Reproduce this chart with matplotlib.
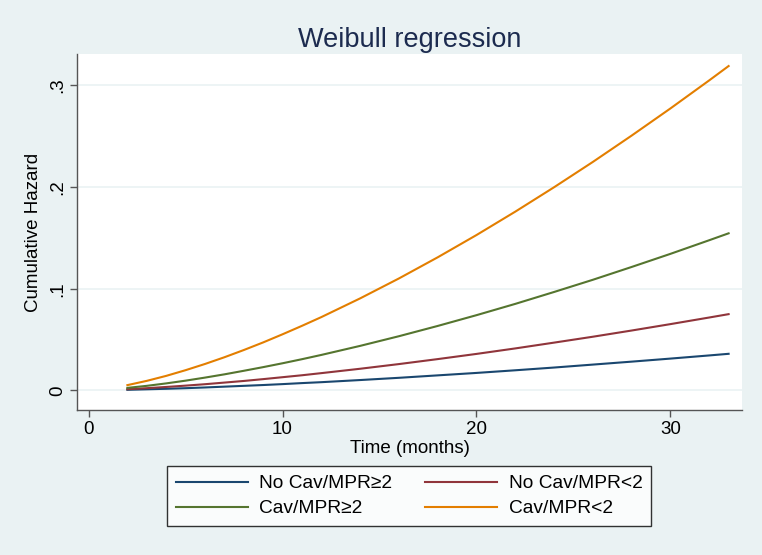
import matplotlib
matplotlib.use("Agg")
import matplotlib.pyplot as plt

plt.rcParams['font.family'] = ['Liberation Sans', 'DejaVu Sans']

time_months = [2, 3, 4, 5, 6, 7, 8, 9, 10, 11, 12, 14, 16, 18, 20, 22, 24, 26, 28, 30, 32, 33]
no_cav_mpr_ge2 = [0.0006, 0.0011, 0.0016, 0.0022, 0.0029, 0.0037, 0.0045, 0.0053, 0.0062, 0.0072,
                  0.0081, 0.0102, 0.0124, 0.0148, 0.0172, 0.0198, 0.0225, 0.0254, 0.0283,
                  0.0313, 0.0344, 0.0360]
no_cav_mpr_lt2 = [0.0012, 0.0022, 0.0034, 0.0047, 0.0061, 0.0077, 0.0093, 0.0111, 0.0130, 0.0149,
                  0.0170, 0.0213, 0.0259, 0.0308, 0.0359, 0.0413, 0.0470, 0.0528, 0.0589,
                  0.0652, 0.0717, 0.0750]
cav_mpr_ge2 = [0.0025, 0.0045, 0.0069, 0.0096, 0.0126, 0.0158, 0.0193, 0.0229, 0.0267, 0.0307,
               0.0349, 0.0438, 0.0533, 0.0634, 0.0740, 0.0851, 0.0968, 0.1088, 0.1214,
               0.1343, 0.1477, 0.1545]
cav_mpr_lt2 = [0.0052, 0.0094, 0.0143, 0.0199, 0.0260, 0.0326, 0.0397, 0.0472, 0.0552, 0.0635,
               0.0721, 0.0905, 0.1101, 0.1309, 0.1528, 0.1758, 0.1998, 0.2247, 0.2506,
               0.2773, 0.3049, 0.3190]

labels = ["No Cav/MPR\u22652", "No Cav/MPR<2", "Cav/MPR\u22652", "Cav/MPR<2"]
colors = ["#1a476f", "#90353b", "#55752f", "#e37e00"]
x_ticks = [0, 10, 20, 30]
y_ticks = [0, 0.1, 0.2, 0.3]
y_ticklabels = ["0", ".1", ".2", ".3"]

bg = "#eaf2f3"
fig = plt.figure(figsize=(7.62, 5.55), dpi=100, facecolor=bg)
ax = fig.add_axes([0.101, 0.261, 0.873, 0.642])
ax.set_facecolor("white")

series = [no_cav_mpr_ge2, no_cav_mpr_lt2, cav_mpr_ge2, cav_mpr_lt2]
handles = []
for ys, c, lab in zip(series, colors, labels):
    h, = ax.plot(time_months, ys, color=c, lw=1.5, label=lab, zorder=3,
                 solid_joinstyle='round')
    handles.append(h)

ax.set_xlim(-0.6, 33.7)
ax.set_ylim(-0.0194, 0.331)
ax.set_xticks(x_ticks)
ax.set_yticks(y_ticks)
ax.set_yticklabels(y_ticklabels, rotation=90, va='center')
ax.grid(axis='y', color=bg, lw=1.2, zorder=0)
for s in ['top', 'right']:
    ax.spines[s].set_visible(False)
for s in ['left', 'bottom']:
    ax.spines[s].set_color('#555555')
    ax.spines[s].set_linewidth(1.0)
ax.tick_params(axis='both', direction='out', length=5, width=1, color='#555555',
               labelsize=13.5, labelcolor='black', pad=3)

ax.set_xlabel("Time (months)", fontsize=13.5, labelpad=1)
ax.set_ylabel("Cumulative Hazard", fontsize=13.5, labelpad=5)
ax.set_title("Weibull regression", fontsize=19.5, color='#1c2b4f', pad=5)

order = [0, 2, 1, 3]
leg = fig.legend([handles[i] for i in order], [labels[i] for i in order],
                 loc='center', bbox_to_anchor=(0.537, 0.106), ncol=2,
                 fontsize=13.8, frameon=True, fancybox=False, edgecolor='black',
                 facecolor='white', handlelength=3.75, columnspacing=1.7,
                 handletextpad=0.62, borderpad=0.45, labelspacing=0.4)
leg.get_frame().set_linewidth(1.0)

fig.savefig("out.png", dpi=100, facecolor=bg)
